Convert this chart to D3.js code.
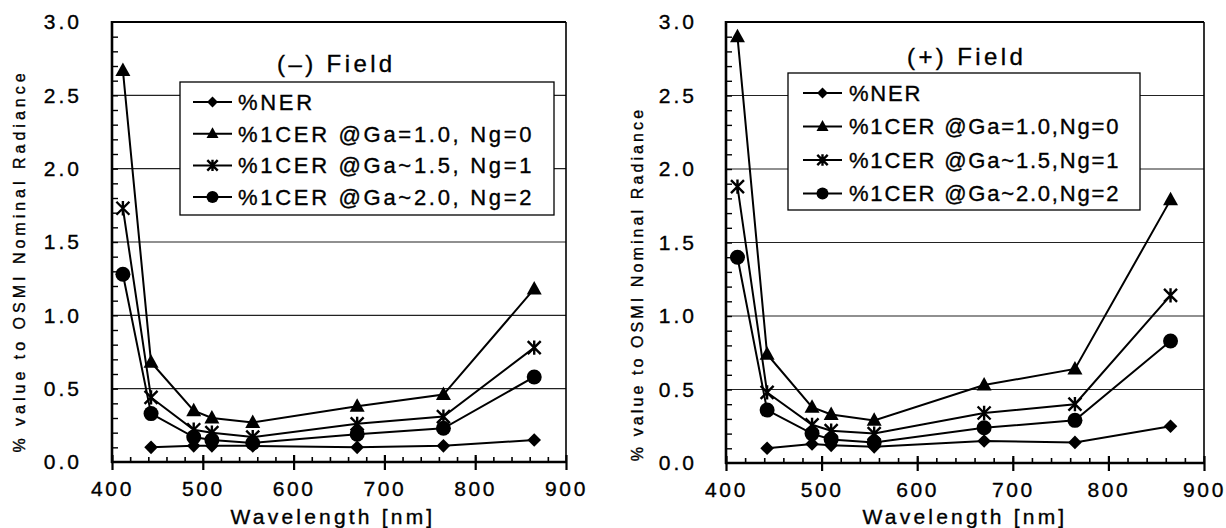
<!DOCTYPE html>
<html>
<head>
<meta charset="utf-8">
<script src="https://cdn.jsdelivr.net/npm/d3@7"></script>
<style>
  body { margin: 0; background: #fff; }
  svg { display: block; font-family: "Liberation Sans", Arial, sans-serif; }
  svg text { stroke: #000; stroke-width: 0.35px; fill: #000; }
</style>
</head>
<body>
<svg id="chart" width="1226" height="528"></svg>
<script>
// band centres of OSMI [nm]
const wavelengths = [412, 443, 490, 510, 555, 670, 765, 865];

// (-) field, % of nominal radiance
const nerMinus  = [null, 0.10, 0.11, 0.11, 0.11, 0.10, 0.11, 0.15];
const cer0Minus = [2.67, 0.68, 0.35, 0.30, 0.27, 0.38, 0.46, 1.18];
const cer1Minus = [1.73, 0.44, 0.22, 0.20, 0.17, 0.26, 0.31, 0.78];
const cer2Minus = [1.28, 0.33, 0.17, 0.15, 0.13, 0.19, 0.23, 0.58];

// (+) field
const nerPlus  = [null, 0.10, 0.13, 0.12, 0.11, 0.15, 0.14, 0.25];
const cer0Plus = [2.90, 0.74, 0.38, 0.33, 0.29, 0.53, 0.64, 1.79];
const cer1Plus = [1.88, 0.48, 0.26, 0.22, 0.20, 0.34, 0.40, 1.14];
const cer2Plus = [1.40, 0.36, 0.20, 0.16, 0.14, 0.24, 0.29, 0.83];

const legendMinus = ["%NER", "%1CER @Ga=1.0, Ng=0", "%1CER @Ga~1.5, Ng=1", "%1CER @Ga~2.0, Ng=2"];
const legendPlus  = ["%NER", "%1CER @Ga=1.0,Ng=0", "%1CER @Ga~1.5,Ng=1", "%1CER @Ga~2.0,Ng=2"];
const markerTypes = ["diamond", "triangle", "star", "circle"];

const xTicks = [400, 500, 600, 700, 800, 900];
const yTicks = [0, 0.5, 1.0, 1.5, 2.0, 2.5, 3.0];
const gridValues = [0.5, 1.0, 1.5, 2.0, 2.5];

const svg = d3.select("#chart");

function marker(sel, type, s) {
  // s = scale factor, 1 for the plot, smaller in legend
  if (type === "circle") {
    sel.append("circle").attr("r", 7.5 * s).attr("fill", "#000");
  } else if (type === "diamond") {
    let r = 6.8 * s;
    sel.append("path").attr("d", `M0,${-r}L${r},0L0,${r}L${-r},0Z`).attr("fill", "#000");
  } else if (type === "triangle") {
    sel.append("path")
      .attr("d", `M0,${-8 * s}L${7.5 * s},${5.5 * s}L${-7.5 * s},${5.5 * s}Z`)
      .attr("fill", "#000");
  } else {
    let r = 6.5 * s;
    sel.append("path")
      .attr("d", `M${-r},${-r}L${r},${r}M${-r},${r}L${r},${-r}M0,${-r * 1.1}L0,${r * 1.1}`)
      .attr("stroke", "#000").attr("stroke-width", 2.4).attr("fill", "none");
  }
}

function drawPanel(cfg) {
  const g = svg.append("g");

  const x = d3.scaleLinear().domain([400, 900]).range([cfg.left, cfg.right]);
  const y = d3.scaleLinear().domain([0, 3]).range([cfg.bottom, cfg.top]);

  // horizontal grid
  g.selectAll("line.grid").data(gridValues).join("line")
    .attr("x1", x(400)).attr("x2", x(900))
    .attr("y1", d => y(d)).attr("y2", d => y(d))
    .attr("stroke", "#222").attr("stroke-width", 1.2);

  // frame, top and right
  g.append("line").attr("x1", x(400)).attr("x2", x(900)).attr("y1", y(3)).attr("y2", y(3))
    .attr("stroke", "#000").attr("stroke-width", 2);
  g.append("line").attr("x1", x(900)).attr("x2", x(900)).attr("y1", y(3)).attr("y2", y(0))
    .attr("stroke", "#000").attr("stroke-width", 1.6);

  // minor ticks
  g.append("g").attr("transform", `translate(0,${y(0)})`)
    .call(d3.axisTop(x).tickValues(d3.range(420, 900, 20)).tickSize(5).tickFormat(""))
    .call(a => a.select(".domain").remove())
    .selectAll("line").attr("stroke-width", 1.6);
  g.append("g").attr("transform", `translate(${x(400)},0)`)
    .call(d3.axisRight(y).tickValues(d3.range(1, 30).map(v => v / 10)).tickSize(6).tickFormat(""))
    .call(a => a.select(".domain").remove())
    .selectAll("line").attr("stroke-width", 1.4);

  // major x ticks crossing the axis + labels
  g.append("g").attr("transform", `translate(0,${y(0) - 7})`)
    .call(d3.axisBottom(x).tickValues(xTicks).tickSize(15).tickPadding(11).tickFormat(d3.format("d")))
    .call(a => a.select(".domain").remove())
    .call(a => a.selectAll("line").attr("stroke-width", 2.2))
    .call(a => a.selectAll("text").attr("font-size", 21).style("letter-spacing", "2.6px")
      .attr("font-family", "Liberation Sans, Arial, sans-serif"));

  // y labels
  g.append("g").attr("transform", `translate(${x(400)},0)`)
    .call(d3.axisLeft(y).tickValues(yTicks).tickSize(0).tickPadding(cfg.yPad).tickFormat(d3.format(".1f")))
    .call(a => a.select(".domain").remove())
    .call(a => a.selectAll("text").attr("font-size", 21).style("letter-spacing", "3px")
      .attr("font-family", "Liberation Sans, Arial, sans-serif"));

  // axis lines
  g.append("line").attr("x1", x(400)).attr("x2", x(400)).attr("y1", y(3) - 1).attr("y2", y(0) + 1)
    .attr("stroke", "#000").attr("stroke-width", 2.6);
  g.append("line").attr("x1", x(400) - 1).attr("x2", x(900) + 1).attr("y1", y(0)).attr("y2", y(0))
    .attr("stroke", "#000").attr("stroke-width", 2.6);

  // legend box
  const lb = cfg.legend;
  g.append("rect").attr("x", lb.x).attr("y", lb.y).attr("width", lb.w).attr("height", lb.h)
    .attr("fill", "#fff").attr("stroke", "#000").attr("stroke-width", 1.3);

  const rows = g.selectAll("g.lrow").data(cfg.labels).join("g")
    .attr("transform", (d, i) => `translate(0,${lb.row0 + i * lb.step})`);
  rows.append("line").attr("x1", lb.sym0).attr("x2", lb.sym1)
    .attr("stroke", "#000").attr("stroke-width", 2);
  rows.each(function (d, i) {
    d3.select(this).append("g").attr("transform", `translate(${(lb.sym0 + lb.sym1) / 2},0)`)
      .call(marker, markerTypes[i], 0.8);
  });
  rows.append("text").attr("x", lb.text).attr("y", 0).attr("dy", "0.36em")
    .attr("font-size", 22).style("letter-spacing", lb.spacing).text(d => d);

  // series
  const line = d3.line().defined(d => d.v != null).x(d => x(d.w)).y(d => y(d.v));
  cfg.series.forEach((vals, i) => {
    const pts = wavelengths.map((w, k) => ({ w: w, v: vals[k] }));
    g.append("path").datum(pts).attr("d", line)
      .attr("fill", "none").attr("stroke", "#000").attr("stroke-width", 2);
  });
  cfg.series.forEach((vals, i) => {
    const pts = wavelengths.map((w, k) => ({ w: w, v: vals[k] })).filter(d => d.v != null);
    g.selectAll(null).data(pts).join("g")
      .attr("transform", d => `translate(${x(d.w)},${y(d.v)})`)
      .each(function () { d3.select(this).call(marker, markerTypes[i], 1); });
  });

  // title inside plot
  g.append("text").attr("x", cfg.titleX).attr("y", cfg.titleY)
    .attr("font-size", 24).style("letter-spacing", "3.4px").text(cfg.title);

  // axis titles
  g.append("text").attr("x", cfg.xTitleX).attr("y", 524).attr("text-anchor", "middle")
    .attr("font-size", 21).style("letter-spacing", "3.2px").text("Wavelength [nm]");
  g.append("text")
    .attr("transform", `translate(${cfg.yTitleX},${cfg.yTitleY}) rotate(-90)`)
    .attr("text-anchor", "middle").attr("font-size", 16).style("letter-spacing", cfg.yTitleSpacing)
    .text("% value to OSMI Nominal Radiance");
}

drawPanel({
  left: 112, right: 566, top: 22, bottom: 462,
  yPad: 30,
  series: [nerMinus, cer0Minus, cer1Minus, cer2Minus],
  labels: legendMinus,
  legend: { x: 180, y: 82, w: 374, h: 133, row0: 102, step: 31.7, sym0: 193, sym1: 232, text: 238, spacing: "2.7px" },
  title: "(\u2013) Field", titleX: 277, titleY: 72,
  xTitleX: 333, yTitleX: 25, yTitleY: 261, yTitleSpacing: "4px"
});

drawPanel({
  left: 726, right: 1204, top: 22, bottom: 463,
  yPad: 29,
  series: [nerPlus, cer0Plus, cer1Plus, cer2Plus],
  labels: legendPlus,
  legend: { x: 788, y: 73, w: 352, h: 137, row0: 93, step: 33.5, sym0: 803, sym1: 842, text: 849, spacing: "1.8px" },
  title: "(+) Field", titleX: 907, titleY: 65,
  xTitleX: 965, yTitleX: 643, yTitleY: 284, yTitleSpacing: "3.1px"
});
</script>
</body>
</html>
